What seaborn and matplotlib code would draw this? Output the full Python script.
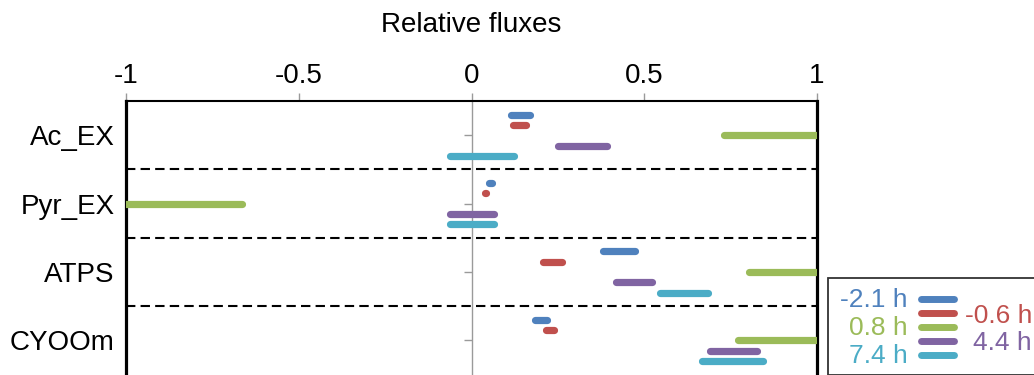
import numpy as np
import pandas as pd
import matplotlib
matplotlib.use("Agg")
import matplotlib.pyplot as plt
import seaborn as sns
from matplotlib.lines import Line2D
from matplotlib.patches import Rectangle

# ---------------- data ----------------
categories = ["Ac_EX", "Pyr_EX", "ATPS", "CYOOm"]
time_labels = ["-2.1 h", "-0.6 h", "0.8 h", "4.4 h", "7.4 h"]

# lower / upper bound of relative flux for each time point (order = categories)
low_m21 = [0.113, 0.050, 0.381, 0.183]
high_m21 = [0.168, 0.059, 0.474, 0.218]
low_m06 = [0.120, 0.038, 0.208, 0.216]
high_m06 = [0.157, 0.043, 0.262, 0.240]
low_p08 = [0.732, -1.000, 0.803, 0.770]
high_p08 = [1.000, -0.664, 1.000, 1.000]
low_p44 = [0.250, -0.062, 0.417, 0.690]
high_p44 = [0.392, 0.066, 0.522, 0.826]
low_p74 = [-0.062, -0.062, 0.546, 0.668]
high_p74 = [0.122, 0.066, 0.685, 0.844]

lows = [low_m21, low_m06, low_p08, low_p44, low_p74]
highs = [high_m21, high_m06, high_p08, high_p44, high_p74]

xticks = [-1, -0.5, 0, 0.5, 1]
xtick_labels = ["-1", "-0.5", "0", "0.5", "1"]

colors = ["#4F81BD", "#C0504D", "#9BBB59", "#8064A2", "#4BACC6"]

# ---------------- style ----------------
sns.set_theme(style="white")
plt.rcParams["font.family"] = ["Liberation Sans", "DejaVu Sans"]

W, H = 1034, 375
fig = plt.figure(figsize=(W / 100, H / 100), dpi=100)
ax = fig.add_axes([126 / W, 0.5 / H, 691 / W, 273.5 / H])

slot = 0.151
rows = []
for ti, (t, lo, hi) in enumerate(zip(time_labels, lows, highs)):
    for ci, c in enumerate(categories):
        y = ci + (ti - 2) * slot
        rows.append(dict(time=t, bar=f"{t}|{c}", x=lo[ci], y=y))
        rows.append(dict(time=t, bar=f"{t}|{c}", x=hi[ci], y=y))
df = pd.DataFrame(rows)

ax.axvline(0, color="#9a9a9a", lw=1.0, zorder=0)
for b in [0.5, 1.5, 2.5]:
    ax.axhline(b, color="black", lw=1.5, ls=(0, (4.5, 2.5)), zorder=1)

sns.lineplot(data=df, x="x", y="y", hue="time", units="bar", estimator=None,
             sort=False, palette=colors, hue_order=time_labels, lw=5.2,
             solid_capstyle="round", legend=False, ax=ax, zorder=3)

ax.set_xlim(-1, 1)
ax.set_ylim(3.5, -0.5)

ax.xaxis.tick_top()
ax.xaxis.set_label_position("top")
ax.set_xticks(xticks)
ax.set_xticklabels(xtick_labels)
ax.tick_params(axis="x", colors="#9a9a9a", length=6, width=1, labelsize=20,
               labelcolor="black", pad=3, direction="out", top=True, bottom=False)
ax.set_xlabel("Relative fluxes", fontsize=20, labelpad=22, color="black")

ax.set_yticks(range(len(categories)))
ax.set_yticklabels(categories)
ax.tick_params(axis="y", length=0, labelsize=20, labelcolor="black", pad=8)
ax.set_ylabel("")

# small ticks on the zero line
sec = ax.secondary_yaxis(0.5)
sec.set_alignment("left")
sec.set_yticks(range(len(categories)))
sec.set_yticklabels([])
sec.tick_params(axis="y", length=6, width=1, colors="#9a9a9a", direction="out")
for s in sec.spines.values():
    s.set_visible(False)

for side in ["left", "right"]:
    ax.spines[side].set_visible(True)
    ax.spines[side].set_color("black")
    ax.spines[side].set_linewidth(2.3)
ax.spines["top"].set_color("black")
ax.spines["top"].set_linewidth(1.5)
ax.spines["bottom"].set_visible(False)

# ---------------- custom legend ----------------
def fy(py):
    return 1 - py / H

box = Rectangle((828 / W, 0), 0.2, fy(278), transform=fig.transFigure,
                facecolor="white", edgecolor="#333333", lw=1.3, zorder=5)
fig.patches.append(box)

line_y = [299, 313, 327, 341, 355]
for col, py in zip(colors, line_y):
    fig.add_artist(Line2D([920.5 / W, 953.5 / W], [fy(py), fy(py)],
                          transform=fig.transFigure, color=col, lw=5,
                          solid_capstyle="round", zorder=6))

left_items = [(0, 300), (2, 328), (4, 356)]
right_items = [(1, 316), (3, 343)]
for idx, py in left_items:
    fig.text(908 / W, fy(py), time_labels[idx], color=colors[idx], fontsize=19,
             ha="right", va="center", zorder=7)
for idx, py in right_items:
    fig.text(1032 / W, fy(py), time_labels[idx], color=colors[idx], fontsize=19,
             ha="right", va="center", zorder=7)

fig.savefig("out.png", dpi=100)
